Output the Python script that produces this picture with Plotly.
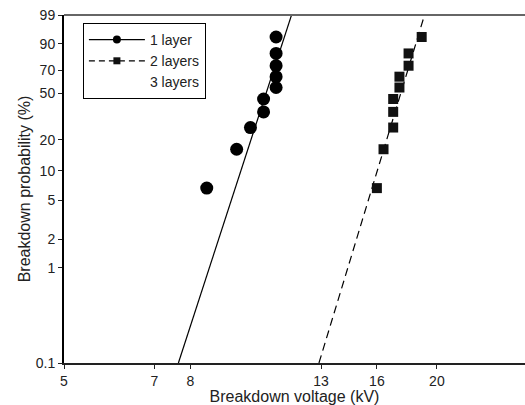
import numpy as np
import plotly.graph_objects as go

# ---- data ----
v_1layer = [8.5, 9.5, 10.0, 10.5, 10.5, 11.0, 11.0, 11.0, 11.0, 11.0]
p_1layer = [6.7, 16.3, 26.0, 35.6, 45.2, 54.8, 64.4, 74.0, 83.7, 93.3]
v_2layer = [16.0, 16.4, 17.0, 17.0, 17.0, 17.4, 17.4, 18.0, 18.0, 18.9]
p_2layer = [6.7, 16.3, 26.0, 35.6, 45.2, 54.8, 64.4, 74.0, 83.7, 93.3]

# Weibull fit lines (voltage at 0.1 % and 99 %)
fit_p = [0.1, 99.0]
fit_v_1layer = [7.65, 11.65]
fit_v_2layer = [12.9, 19.1]

y_ticks = [0.1, 1, 2, 5, 10, 20, 50, 70, 90, 99]
y_ticklabels = ["0.1", "1", "2", "5", "10", "20", "50", "70", "90", "99"]
x_ticks = [5, 7, 8, 13, 16, 20]
x_ticklabels = ["5", "7", "8", "13", "16", "20"]


def weib(p):
    p = np.asarray(p, dtype=float) / 100.0
    return np.log(-np.log(1.0 - p))


FONT = "Liberation Sans, Arial, sans-serif"
DASH = "8px,5px"

fig = go.Figure()

# fit lines
fig.add_trace(go.Scatter(
    x=fit_v_1layer, y=weib(fit_p), mode="lines",
    line=dict(color="black", width=1.2), showlegend=False, hoverinfo="skip"))
fig.add_trace(go.Scatter(
    x=fit_v_2layer, y=weib(fit_p), mode="lines",
    line=dict(color="black", width=1.2, dash=DASH), showlegend=False, hoverinfo="skip"))

# data points
fig.add_trace(go.Scatter(
    x=v_1layer, y=weib(p_1layer), mode="markers", name="1 layer", showlegend=False,
    marker=dict(symbol="circle", size=13, color="black")))
fig.add_trace(go.Scatter(
    x=v_2layer, y=weib(p_2layer), mode="markers", name="2 layers", showlegend=False,
    marker=dict(symbol="square", size=10, color="#111111")))

# legend entries
fig.add_trace(go.Scatter(
    x=[None], y=[None], mode="lines+markers", name="1 layer",
    line=dict(color="black", width=1.2),
    marker=dict(symbol="circle", size=8, color="black")))
fig.add_trace(go.Scatter(
    x=[None], y=[None], mode="lines+markers", name="2 layers",
    line=dict(color="black", width=1.2, dash="6px,4px"),
    marker=dict(symbol="square", size=7, color="#111111")))
fig.add_trace(go.Scatter(
    x=[None], y=[None], mode="markers", name="3 layers",
    marker=dict(color="rgba(0,0,0,0)", size=7)))

fig.update_layout(
    width=525, height=405,
    margin=dict(l=64, r=0, t=15, b=42, autoexpand=False),
    paper_bgcolor="white", plot_bgcolor="white",
    font=dict(family=FONT, color="#222222", size=13),
    showlegend=True,
    legend=dict(
        x=0.041, y=0.977, xanchor="left", yanchor="top",
        bordercolor="black", borderwidth=1, bgcolor="white",
        font=dict(family=FONT, size=14, color="#222222"),
        itemwidth=56, tracegroupgap=0,
    ),
    xaxis=dict(
        type="log", automargin=False,
        range=[np.log10(5), np.log10(27.75)],
        tickvals=x_ticks, ticktext=x_ticklabels,
        ticks="outside", ticklen=4, tickcolor="#222222",
        showline=True, linecolor="#222222", linewidth=1.5,
        showgrid=False, zeroline=False,
        tickfont=dict(size=14),
        title=dict(text="Breakdown voltage (kV)", font=dict(size=16), standoff=0),
    ),
    yaxis=dict(
        automargin=False,
        range=[float(weib(0.1)), float(weib(99))],
        tickvals=weib(y_ticks), ticktext=y_ticklabels,
        ticks="outside", ticklen=4, tickcolor="#222222",
        showline=True, linecolor="black", linewidth=2,
        showgrid=False, zeroline=False,
        tickfont=dict(size=14),
        title=dict(text="Breakdown probability (%)", font=dict(size=16), standoff=1),
    ),
    shapes=[dict(type="line", xref="paper", yref="paper", x0=0, x1=1, y0=1, y1=1,
                 line=dict(color="#666666", width=2))],
)

fig.write_html(
    "out.html",
    config={"displayModeBar": False},
    post_script="document.body.style.margin='0';document.body.style.padding='0';",
)
